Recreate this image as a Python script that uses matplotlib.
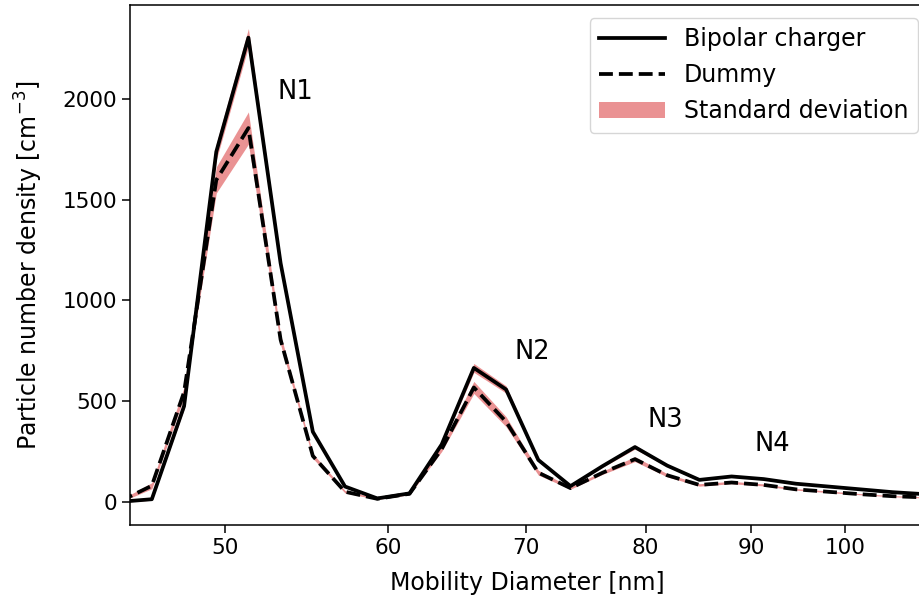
import numpy as np
import matplotlib
matplotlib.use("Agg")
import matplotlib.pyplot as plt
from matplotlib.ticker import NullLocator

# =========================================
# data
# =========================================
diameter = [44.45, 46.08, 47.77, 49.52, 51.33, 53.21, 55.16, 57.18, 59.28, 61.45,
            63.70, 66.03, 68.45, 70.96, 73.56, 76.26, 79.05, 81.95, 84.95, 88.06,
            91.28, 94.63, 98.10, 101.69, 105.41, 109.28]

bipolar = [0, 13, 475, 1738, 2305, 1185, 348, 76, 17, 42,
           285, 665, 558, 208, 78, 178, 272, 180, 109, 126,
           113, 90, 76, 62, 48, 38]
bipolar_std = [3, 5, 15, 40, 45, 20, 10, 5, 3, 5,
               10, 22, 18, 8, 4, 6, 10, 6, 4, 4,
               4, 3, 3, 2, 2, 2]

dummy = [2, 80, 545, 1598, 1856, 805, 228, 50, 15, 40,
         262, 568, 398, 145, 68, 145, 212, 132, 84, 96,
         84, 62, 50, 38, 28, 22]
dummy_std = [5, 15, 25, 65, 80, 25, 12, 6, 3, 5,
             12, 30, 25, 12, 5, 8, 12, 8, 6, 6,
             5, 4, 4, 3, 3, 3]

xticks = [50, 60, 70, 80, 90, 100]
yticks = [0, 500, 1000, 1500, 2000]

peak_labels = ["N1", "N2", "N3", "N4"]
peak_pos = [(54.1, 2035), (70.5, 742), (81.8, 405), (92.2, 286)]

# =========================================
# plot
# =========================================
d = np.array(diameter)
b, bs = np.array(bipolar), np.array(bipolar_std)
m, ms = np.array(dummy), np.array(dummy_std)

fig = plt.figure(figsize=(9.2, 6.02), dpi=100)
ax = fig.add_axes([130 / 920, 77 / 602, 795 / 920, 520 / 602])

band_color = "tab:red"
std_fill = ax.fill_between(d, b - bs, b + bs, color=band_color, alpha=0.5, lw=0)
ax.fill_between(d, m - ms, m + ms, color=band_color, alpha=0.5, lw=0)
dummy_line, = ax.plot(d, m, color="black", ls="--", lw=2.7)
bip_line, = ax.plot(d, b, color="black", ls="-", lw=2.7)

for lab, (px, py) in zip(peak_labels, peak_pos):
    ax.text(px, py, lab, fontsize=18.5, ha="center", va="center")

ax.set_xscale("log")
ax.set_xlim(44.97, 109.3)
ax.set_ylim(-115, 2467)
ax.set_xticks(xticks)
ax.set_xticklabels([str(t) for t in xticks])
ax.xaxis.set_minor_locator(NullLocator())
ax.set_yticks(yticks)

ax.tick_params(labelsize=15.5, length=5.5, width=1.1)
for sp in ax.spines.values():
    sp.set_linewidth(1.1)

ax.set_xlabel("Mobility Diameter [nm]", fontsize=17, labelpad=10)
ax.set_ylabel("Particle number density [cm$^{-3}$]", fontsize=17, labelpad=13)

ax.legend([bip_line, dummy_line, std_fill],
          ["Bipolar charger", "Dummy", "Standard deviation"],
          fontsize=17, loc="upper right", bbox_to_anchor=(918 / 920, 584 / 602),
          bbox_transform=fig.transFigure, handlelength=2.8, borderaxespad=0.0)

fig.savefig("out.png", dpi=100)
